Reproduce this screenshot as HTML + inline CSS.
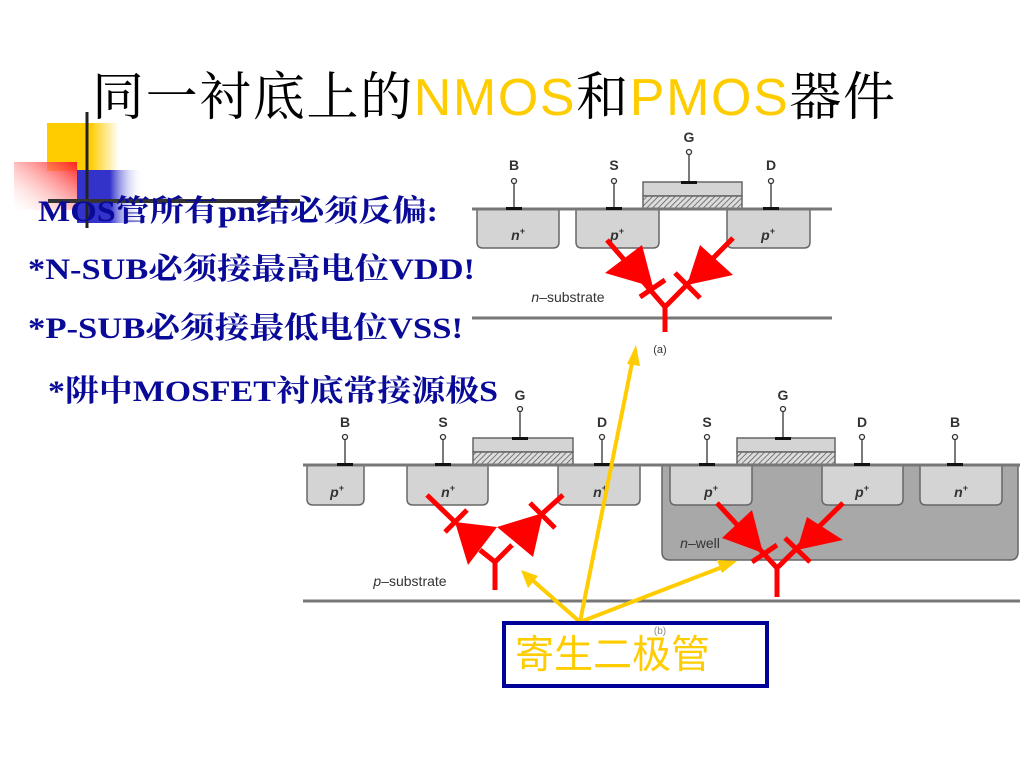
<!DOCTYPE html>
<html><head><meta charset="utf-8"><style>
html,body{margin:0;padding:0;background:#fff;}
svg{display:block}
</style></head><body>
<svg width="1024" height="768" viewBox="0 0 1024 768" xmlns="http://www.w3.org/2000/svg">
<defs>
<linearGradient id="gy" x1="0" x2="1"><stop offset="0" stop-color="#ffcc00"/><stop offset="0.6" stop-color="#ffcc00"/><stop offset="1" stop-color="#fff"/></linearGradient>
<linearGradient id="gb" x1="0" x2="1"><stop offset="0" stop-color="#3333cc"/><stop offset="0.5" stop-color="#3333cc"/><stop offset="1" stop-color="#fff" stop-opacity="0"/></linearGradient>
<linearGradient id="gr" x1="1" y1="0" x2="0" y2="1"><stop offset="0" stop-color="#ff2020"/><stop offset="1" stop-color="#fff" stop-opacity="0.2"/></linearGradient>
<pattern id="hatch" width="4" height="4" patternUnits="userSpaceOnUse" patternTransform="rotate(45)"><rect width="4" height="4" fill="#ddd"/><line x1="0" y1="0" x2="0" y2="4" stroke="#555" stroke-width="1.5"/></pattern>
</defs>
<rect x="47" y="123" width="72" height="48" fill="url(#gy)"/>
<rect x="77" y="170" width="66" height="53" fill="url(#gb)"/>
<rect x="14" y="162" width="63" height="48" fill="url(#gr)"/>
<line x1="87" y1="112" x2="87" y2="228" stroke="#222" stroke-width="3"/>
<line x1="48" y1="201" x2="300" y2="201" stroke="#333" stroke-width="4"/>
<text x="92" y="115" font-size="52" font-family="'Noto Serif CJK SC','Liberation Serif',serif" fill="#000" textLength="803">同一衬底上的<tspan fill="#ffcc00" font-family="'Liberation Sans',sans-serif">NMOS</tspan>和<tspan fill="#ffcc00" font-family="'Liberation Sans',sans-serif">PMOS</tspan>器件</text>
<g font-family="'Liberation Serif','Noto Serif CJK SC',serif" font-weight="bold" font-size="30" fill="#0a0a99">
<text x="38" y="221" textLength="400" lengthAdjust="spacingAndGlyphs">MOS管所有pn结必须反偏:</text>
<text x="28" y="279" textLength="447" lengthAdjust="spacingAndGlyphs">*N-SUB必须接最高电位VDD!</text>
<text x="28" y="338" textLength="435" lengthAdjust="spacingAndGlyphs">*P-SUB必须接最低电位VSS!</text>
<text x="48" y="401" textLength="450" lengthAdjust="spacingAndGlyphs">*阱中MOSFET衬底常接源极S</text>
</g>
<g stroke="#666" stroke-width="1.5" fill="#d4d4d4">
<path d="M477 209 V242 Q477 248 483 248 H553 Q559 248 559 242 V209"/>
<path d="M576 209 V242 Q576 248 582 248 H653 Q659 248 659 242 V209"/>
<path d="M727 209 V242 Q727 248 733 248 H804 Q810 248 810 242 V209"/>
<rect x="643" y="182" width="99" height="14"/>
<rect x="643" y="196" width="99" height="13" fill="url(#hatch)"/>
</g>
<line x1="472" y1="209" x2="832" y2="209" stroke="#777" stroke-width="3"/>
<line x1="472" y1="318" x2="832" y2="318" stroke="#777" stroke-width="3"/>
<g stroke="#333" stroke-width="1.3" fill="#fff">
<line x1="514" y1="184" x2="514" y2="208"/><circle cx="514" cy="181" r="2.5"/>
<line x1="614" y1="184" x2="614" y2="208"/><circle cx="614" cy="181" r="2.5"/>
<line x1="771" y1="184" x2="771" y2="208"/><circle cx="771" cy="181" r="2.5"/>
<line x1="689" y1="155" x2="689" y2="182"/><circle cx="689" cy="152" r="2.5"/>
</g>
<g fill="#111"><rect x="506" y="207" width="16" height="3"/><rect x="606" y="207" width="16" height="3"/><rect x="763" y="207" width="16" height="3"/><rect x="681" y="181" width="16" height="3"/></g>
<g font-family="'Liberation Sans',sans-serif" font-weight="bold" font-size="14" fill="#333" text-anchor="middle">
<text x="514" y="170">B</text><text x="614" y="170">S</text><text x="771" y="170">D</text><text x="689" y="142">G</text>
<text x="518" y="240" font-style="italic">n<tspan font-size="9" dy="-6">+</tspan></text>
<text x="617" y="240" font-style="italic">p<tspan font-size="9" dy="-6">+</tspan></text>
<text x="768" y="240" font-style="italic">p<tspan font-size="9" dy="-6">+</tspan></text>
<text x="568" y="302" font-weight="normal" font-size="14"><tspan font-style="italic">n</tspan>–substrate</text>
<text x="660" y="353" font-weight="normal" font-size="11">(a)</text>
</g>
<path d="M662 465 V552 Q662 560 670 560 H1010 Q1018 560 1018 552 V465 Z" fill="#a8a8a8" stroke="#666" stroke-width="1.5"/>
<g stroke="#666" stroke-width="1.5" fill="#d4d4d4">
<path d="M307 465 V499 Q307 505 313 505 H358 Q364 505 364 499 V465"/>
<path d="M407 465 V499 Q407 505 413 505 H482 Q488 505 488 499 V465"/>
<path d="M558 465 V499 Q558 505 564 505 H634 Q640 505 640 499 V465"/>
<path d="M670 465 V499 Q670 505 676 505 H746 Q752 505 752 499 V465"/>
<path d="M822 465 V499 Q822 505 828 505 H897 Q903 505 903 499 V465"/>
<path d="M920 465 V499 Q920 505 926 505 H996 Q1002 505 1002 499 V465"/>
<rect x="473" y="438" width="100" height="14"/>
<rect x="473" y="452" width="100" height="13" fill="url(#hatch)"/>
<rect x="737" y="438" width="98" height="14"/>
<rect x="737" y="452" width="98" height="13" fill="url(#hatch)"/>
</g>
<line x1="303" y1="465" x2="1020" y2="465" stroke="#777" stroke-width="3"/>
<line x1="303" y1="601" x2="1020" y2="601" stroke="#777" stroke-width="3"/>
<g stroke="#333" stroke-width="1.3" fill="#fff">
<line x1="345" y1="440" x2="345" y2="464"/><circle cx="345" cy="437" r="2.5"/>
<line x1="443" y1="440" x2="443" y2="464"/><circle cx="443" cy="437" r="2.5"/>
<line x1="602" y1="440" x2="602" y2="464"/><circle cx="602" cy="437" r="2.5"/>
<line x1="520" y1="412" x2="520" y2="438"/><circle cx="520" cy="409" r="2.5"/>
<line x1="707" y1="440" x2="707" y2="464"/><circle cx="707" cy="437" r="2.5"/>
<line x1="862" y1="440" x2="862" y2="464"/><circle cx="862" cy="437" r="2.5"/>
<line x1="955" y1="440" x2="955" y2="464"/><circle cx="955" cy="437" r="2.5"/>
<line x1="783" y1="412" x2="783" y2="438"/><circle cx="783" cy="409" r="2.5"/>
</g>
<g fill="#111"><rect x="337" y="463" width="16" height="3"/><rect x="435" y="463" width="16" height="3"/><rect x="594" y="463" width="16" height="3"/><rect x="512" y="437" width="16" height="3"/><rect x="699" y="463" width="16" height="3"/><rect x="854" y="463" width="16" height="3"/><rect x="947" y="463" width="16" height="3"/><rect x="775" y="437" width="16" height="3"/></g>
<g font-family="'Liberation Sans',sans-serif" font-weight="bold" font-size="14" fill="#333" text-anchor="middle">
<text x="345" y="427">B</text><text x="443" y="427">S</text><text x="602" y="427">D</text><text x="520" y="400">G</text>
<text x="707" y="427">S</text><text x="862" y="427">D</text><text x="955" y="427">B</text><text x="783" y="400">G</text>
<text x="337" y="497" font-style="italic">p<tspan font-size="9" dy="-6">+</tspan></text>
<text x="448" y="497" font-style="italic">n<tspan font-size="9" dy="-6">+</tspan></text>
<text x="600" y="497" font-style="italic">n<tspan font-size="9" dy="-6">+</tspan></text>
<text x="711" y="497" font-style="italic">p<tspan font-size="9" dy="-6">+</tspan></text>
<text x="862" y="497" font-style="italic">p<tspan font-size="9" dy="-6">+</tspan></text>
<text x="961" y="497" font-style="italic">n<tspan font-size="9" dy="-6">+</tspan></text>
<text x="700" y="548" font-weight="normal" font-size="14"><tspan font-style="italic">n</tspan>–well</text>
<text x="410" y="586" font-weight="normal" font-size="14"><tspan font-style="italic">p</tspan>–substrate</text>
<text x="660" y="634" font-weight="normal" font-size="10" fill="#888">(b)</text>
</g>
<g stroke="#ff0000" stroke-width="5" fill="none" stroke-linecap="butt">
<path d="M607 240 L665 307 L733 238 M665 307 V332 M640 297 L665 280 M675 273 L700 298"/>
<path d="M427 495 L455 522 M445 532 L467 510 M563 495 L543 513 M530 503 L555 528 M480 550 L495 562 L512 545 M495 562 V590"/>
<path d="M717 503 L777 568 L843 503 M777 568 V597 M752 562 L777 545 M785 538 L810 562"/>
</g>
<g fill="#ff0000">
<polygon points="605,273 642,245 653,287"/>
<polygon points="700,245 733,275 687,285"/>
<polygon points="455,522 497,527 468,565"/>
<polygon points="497,527 543,513 533,557"/>
<polygon points="752,510 722,538 763,553"/>
<polygon points="807,517 843,540 797,550"/>
</g>
<g stroke="#ffcc00" stroke-width="4" fill="none">
<line x1="580" y1="622" x2="633" y2="358"/>
<line x1="580" y1="622" x2="530" y2="578"/>
<line x1="580" y1="622" x2="725" y2="566"/>
</g>
<g fill="#ffcc00">
<polygon points="636,345 627,364 640,366"/>
<polygon points="521,570 528,588 538,576"/>
<polygon points="737,561 717,560 722,573"/>
</g>
<rect x="504" y="623" width="263" height="63" fill="none" stroke="#000099" stroke-width="4"/>
<text x="515" y="668" font-size="39" font-family="'Noto Sans CJK SC',sans-serif" fill="#ffcc00">寄生二极管</text>
</svg>
</body></html>
